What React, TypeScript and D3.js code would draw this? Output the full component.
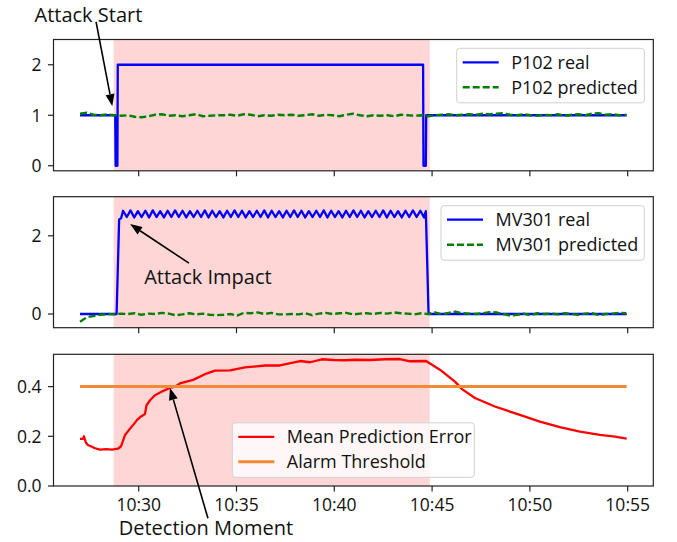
import React from 'react';
import * as d3 from 'd3';

const WIDTH = 677;
const HEIGHT = 542;
const FONT = '"Open Sans", sans-serif';

// all times are minutes after 10:00
const attackStart = 28.72;
const attackEnd = 44.88;
const alarmThreshold = 0.4;
const seriesStart = 27.0;
const seriesEnd = 54.95;

const p102RealTimes = [27.0, 28.8, 28.82, 28.91, 28.93, 44.54, 44.56, 44.68, 44.7, 54.95];
const p102RealValues = [1, 1, 0, 0, 2, 2, 0, 0, 1, 1];

// predicted signals, one sample every 0.349 min from 10:27
const predStep = 0.349;
const p102Predicted = [
  1.03, 1.05, 1.01, 1.0, 1.02, 1.0, 0.99, 1.0, 0.97, 0.96,
  0.98, 1.01, 1.02, 0.99, 1.0, 0.98, 1.0, 1.02, 0.98, 0.99,
  1.0, 1.0, 1.01, 0.99, 1.02, 1.01, 0.98, 1.0, 0.99, 1.01,
  1.0, 1.01, 0.99, 1.0, 1.02, 0.99, 1.01, 1.0, 0.98, 1.01,
  1.03, 1.0, 0.98, 1.0, 0.99, 1.0, 0.98, 1.01, 1.0, 0.99,
  1.0, 0.98, 1.0, 1.01, 1.02, 1.0, 1.01, 1.02, 1.01, 1.03,
  1.02, 1.03, 1.04, 1.01, 1.0, 1.02, 1.0, 0.99, 1.01, 1.0,
  1.02, 0.99, 1.01, 1.02, 1.0, 1.03, 1.04, 1.01, 1.02, 1.0,
  1.01,
];
const mv301Predicted = [
  -0.2, -0.08, -0.05, -0.02, 0.0, -0.01, 0.01, 0.0, 0.02, -0.02,
  0.01, 0.0, 0.03, 0.01, -0.03, -0.01, 0.02, -0.01, 0.01, -0.02,
  -0.03, -0.02, 0.0, -0.04, 0.03, 0.02, 0.04, 0.0, 0.03, -0.01,
  -0.01, 0.0, -0.01, 0.02, -0.03, 0.01, 0.03, 0.0, 0.02, 0.03,
  -0.01, 0.01, 0.02, 0.0, 0.03, 0.01, 0.04, 0.02, 0.01, -0.01,
  0.02, 0.0, 0.04, -0.01, 0.03, 0.06, 0.02, 0.01, 0.0, 0.02,
  0.05, 0.04, 0.0, -0.04, -0.02, 0.01, -0.03, 0.02, 0.0, 0.01,
  -0.01, 0.02, 0.0, -0.02, 0.01, 0.02, -0.03, 0.0, 0.01, 0.03,
  0.02,
];

// MV301 real: ramp up, oscillation (one sample every 0.19 min), drop back
const mv301RampTimes = [27.0, 28.87, 29.0, 29.1];
const mv301RampValues = [0, 0, 2.42, 2.45];
const mv301OscStart = 29.2;
const mv301OscStep = 0.19;
const mv301Osc = [
  2.64, 2.48, 2.65, 2.47, 2.63, 2.48, 2.64, 2.47, 2.65, 2.48,
  2.63, 2.47, 2.64, 2.48, 2.65, 2.48, 2.64, 2.47, 2.63, 2.48,
  2.64, 2.48, 2.65, 2.47, 2.64, 2.48, 2.63, 2.47, 2.64, 2.48,
  2.65, 2.48, 2.64, 2.47, 2.63, 2.48, 2.64, 2.48, 2.65, 2.47,
  2.64, 2.48, 2.63, 2.47, 2.64, 2.48, 2.65, 2.48, 2.64, 2.47,
  2.63, 2.48, 2.64, 2.48, 2.65, 2.47, 2.64, 2.48, 2.63, 2.47,
  2.64, 2.48, 2.65, 2.48, 2.64, 2.47, 2.63, 2.48, 2.64, 2.48,
  2.65, 2.47, 2.64, 2.48, 2.63, 2.47, 2.64, 2.48, 2.65, 2.48,
  2.64, 2.47,
];
const mv301TailTimes = [44.68, 44.82, 54.95];
const mv301TailValues = [2.63, 0, 0];

const errorTimes = [
  27.0, 27.15, 27.2, 27.3, 27.4, 27.55, 27.77, 28.02, 28.33, 28.64,
  28.94, 29.1, 29.3, 29.5, 29.71, 29.91, 30.12, 30.32, 30.4, 30.58,
  30.83, 31.19, 31.6, 31.86, 32.11, 32.78, 33.39, 33.9, 34.67, 35.43,
  36.46, 37.22, 38.25, 38.76, 39.37, 39.98, 40.55, 41.06, 41.83, 42.6,
  43.36, 43.87, 44.69, 45.4, 46.17, 46.53, 47.19, 48.21, 49.49, 50.51,
  51.53, 52.56, 53.58, 54.35, 54.95,
];
const errorValues = [
  0.19, 0.19, 0.2, 0.175, 0.165, 0.16, 0.152, 0.146, 0.148, 0.146,
  0.15, 0.16, 0.205, 0.225, 0.245, 0.265, 0.28, 0.29, 0.325, 0.345,
  0.365, 0.38, 0.395, 0.4, 0.413, 0.427, 0.45, 0.464, 0.465, 0.477,
  0.485, 0.485, 0.503, 0.498, 0.51, 0.507, 0.506, 0.508, 0.507, 0.51,
  0.511, 0.502, 0.503, 0.468, 0.42, 0.39, 0.354, 0.32, 0.286, 0.259,
  0.237, 0.219, 0.206, 0.199, 0.191,
];

const legendLabels = [
  ['P102 real', 'P102 predicted'],
  ['MV301 real', 'MV301 predicted'],
  ['Mean Prediction Error', 'Alarm Threshold'],
];
const yTickValues = [[0, 1, 2], [0, 2], [0, 0.2, 0.4]];
const yDomains: [number, number][] = [[-0.1, 2.5], [-0.35, 3.0], [0, 0.53]];

const toDate = (m: number) => new Date(2020, 0, 1, 10, 0, 0, Math.round(m * 60000));

type Pt = { t: number; v: number };
const zip = (ts: number[], vs: number[]): Pt[] => ts.map((t, i) => ({ t, v: vs[i] }));
const stepped = (start: number, step: number, vs: number[]): Pt[] =>
  vs.map((v, i) => ({ t: start + i * step, v }));

const p102Real = zip(p102RealTimes, p102RealValues);
const p102Pred = stepped(seriesStart, predStep, p102Predicted);
const mv301Real = [
  ...zip(mv301RampTimes, mv301RampValues),
  ...stepped(mv301OscStart, mv301OscStep, mv301Osc),
  ...zip(mv301TailTimes, mv301TailValues),
];
const mv301Pred = stepped(seriesStart, predStep, mv301Predicted);
const errorSeries = zip(errorTimes, errorValues);
const thresholdSeries = zip([seriesStart, seriesEnd], [alarmThreshold, alarmThreshold]);

const left = 53.5;
const right = 653.3;
const panels = [
  { top: 39.5, bottom: 170.8 },
  { top: 196.7, bottom: 327.7 },
  { top: 354.3, bottom: 486 },
];

const x = d3.scaleTime().domain([toDate(25.644), toDate(56.31)]).range([left, right]);
const yScales = panels.map((p, i) => d3.scaleLinear().domain(yDomains[i]).range([p.bottom, p.top]));

const makeLine = (y: d3.ScaleLinear<number, number>) =>
  d3.line<Pt>().x((d) => x(toDate(d.t))).y((d) => y(d.v));

type Entry = { label: string; color: string; width: number; dash?: string };

function Legend({ x0, y0, w, entries }: { x0: number; y0: number; w: number; entries: Entry[] }) {
  return (
    <g>
      <rect x={x0} y={y0} width={w} height={54.5} rx={3} fill="#fff" fillOpacity={0.8} stroke="#d0d0d0" />
      {entries.map((e, i) => {
        const cy = y0 + 14 + i * 25;
        return (
          <g key={e.label}>
            <line x1={x0 + 6} x2={x0 + 42} y1={cy} y2={cy} stroke={e.color} strokeWidth={e.width} strokeDasharray={e.dash} />
            <text x={x0 + 54.5} y={cy} dy="0.36em" fontSize={18} fontFamily={FONT} fill="#111">{e.label}</text>
          </g>
        );
      })}
    </g>
  );
}

function Arrow({ from, to }: { from: [number, number]; to: [number, number] }) {
  const [x1, y1] = from;
  const [x2, y2] = to;
  const a = Math.atan2(y2 - y1, x2 - x1);
  const hl = 12;
  const hw = 4.5;
  const bx = x2 - hl * Math.cos(a);
  const by = y2 - hl * Math.sin(a);
  const px = -Math.sin(a) * hw;
  const py = Math.cos(a) * hw;
  return (
    <g>
      <line x1={x1} y1={y1} x2={bx} y2={by} stroke="#000" strokeWidth={1.6} />
      <polygon points={`${x2},${y2} ${bx + px},${by + py} ${bx - px},${by - py}`} fill="#000" />
    </g>
  );
}

// annotations in data coordinates of their panel
const annotations = [
  { panel: 0, label: 'Attack Start', text: [27.43, 2.85], tail: [27.82, 2.85], tip: [28.65, 1.18] },
  { panel: 1, label: 'Attack Impact', text: [33.54, 0.77], tail: [32.57, 1.3], tip: [29.56, 2.3] },
  { panel: 2, label: 'Detection Moment', text: [33.44, -0.197], tail: [33.54, -0.13], tip: [31.6, 0.394] },
];

export default function App() {
  const xTicks = x.ticks(d3.timeMinute.every(5) as d3.TimeInterval);
  const fmt = d3.timeFormat('%H:%M');

  const seriesByPanel = [
    [
      { data: p102Real, color: 'blue', width: 2.3 },
      { data: p102Pred, color: 'green', width: 2.4, dash: '7,3' },
    ],
    [
      { data: mv301Real, color: 'blue', width: 2.3 },
      { data: mv301Pred, color: 'green', width: 2.4, dash: '7,3' },
    ],
    [
      { data: errorSeries, color: 'red', width: 2.3 },
      { data: thresholdSeries, color: '#f28a33', width: 3 },
    ],
  ];

  const legendBoxes = [
    { x0: 456.7, y0: 48.3, w: 187.6 },
    { x0: 441, y0: 205.7, w: 203.3 },
    { x0: 232.3, y0: 422.8, w: 242 },
  ];

  return (
    <svg width={WIDTH} height={HEIGHT} style={{ position: 'absolute', left: 0, top: 0 }}>
      <rect width={WIDTH} height={HEIGHT} fill="#fff" />
      {panels.map((p, i) => {
        const y = yScales[i];
        const line = makeLine(y);
        const series = seriesByPanel[i];
        return (
          <g key={i}>
            <rect
              x={x(toDate(attackStart))}
              y={p.top}
              width={x(toDate(attackEnd)) - x(toDate(attackStart))}
              height={p.bottom - p.top}
              fill="red"
              fillOpacity={0.16}
            />
            {series.map((s, j) => (
              <path
                key={j}
                d={line(s.data) || ''}
                fill="none"
                stroke={s.color}
                strokeWidth={s.width}
                strokeDasharray={s.dash}
                strokeLinejoin="round"
              />
            ))}
            <rect x={left} y={p.top} width={right - left} height={p.bottom - p.top} fill="none" stroke="#222" strokeWidth={1.2} />
            {yTickValues[i].map((v) => (
              <g key={v} transform={`translate(${left},${y(v)})`}>
                <line x1={-5.5} x2={0} stroke="#222" strokeWidth={1.2} />
                <text x={-12} dy="0.36em" textAnchor="end" fontSize={17.5} fontFamily={FONT} fill="#111">
                  {i === 2 ? d3.format('.1f')(v) : v}
                </text>
              </g>
            ))}
            {xTicks.map((d) => (
              <g key={+d} transform={`translate(${x(d)},${p.bottom})`}>
                <line y1={0} y2={5.5} stroke="#222" strokeWidth={1.2} />
                {i === 2 && (
                  <text y={24.5} textAnchor="middle" fontSize={17.5} fontFamily={FONT} fill="#111">
                    {fmt(d)}
                  </text>
                )}
              </g>
            ))}
            <Legend
              {...legendBoxes[i]}
              entries={series.map((s, j) => ({ label: legendLabels[i][j], color: s.color, width: s.width, dash: s.dash }))}
            />
          </g>
        );
      })}
      {annotations.map((a) => {
        const y = yScales[a.panel];
        return (
          <g key={a.label}>
            <Arrow
              from={[x(toDate(a.tail[0])), y(a.tail[1])]}
              to={[x(toDate(a.tip[0])), y(a.tip[1])]}
            />
            <text
              x={x(toDate(a.text[0]))}
              y={y(a.text[1])}
              textAnchor="middle"
              fontSize={20}
              fontFamily={FONT}
              fill="#111"
            >
              {a.label}
            </text>
          </g>
        );
      })}
    </svg>
  );
}
